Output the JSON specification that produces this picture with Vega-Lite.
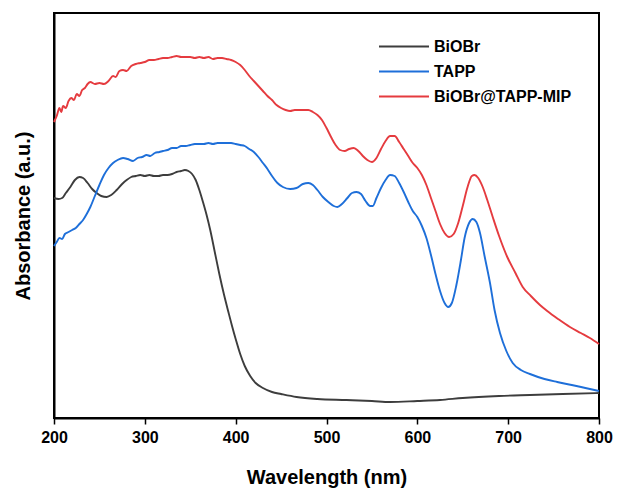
{
  "$schema": "https://vega.github.io/schema/vega-lite/v6.json",
  "autosize": "none",
  "width": 545,
  "height": 405,
  "padding": {"left": 54, "top": 13, "right": 18, "bottom": 73},
  "background": "white",
  "config": {
    "view": {"stroke": "black", "strokeWidth": 2},
    "font": "Liberation Sans"
  },
  "datasets": {
    "BiOBr": [[200,2.20],[205,2.19],[209,2.20],[213,2.25],[218,2.31],[223,2.38],[228,2.41],[232,2.40],[237,2.35],[242,2.29],[247,2.25],[252,2.22],[258,2.21],[263,2.23],[269,2.28],[275,2.34],[280,2.38],[285,2.41],[290,2.42],[295,2.43],[300,2.42],[305,2.43],[310,2.42],[315,2.42],[320,2.43],[325,2.43],[330,2.44],[335,2.46],[340,2.47],[344,2.48],[348,2.47],[352,2.44],[356,2.38],[360,2.28],[364,2.16],[368,2.03],[372,1.88],[377,1.66],[382,1.44],[387,1.24],[392,1.06],[396,0.92],[400,0.79],[405,0.64],[410,0.52],[416,0.42],[422,0.35],[430,0.30],[440,0.26],[450,0.24],[467,0.21],[490,0.19],[522,0.18],[550,0.17],[570,0.16],[600,0.17],[625,0.18],[650,0.20],[690,0.22],[724,0.23],[760,0.24],[800,0.25]],
    "TAPP": [[200,1.72],[203,1.76],[206,1.80],[209,1.79],[212,1.84],[216,1.86],[220,1.88],[224,1.90],[228,1.94],[232,1.98],[236,2.04],[240,2.11],[245,2.22],[250,2.33],[255,2.43],[260,2.50],[265,2.55],[270,2.58],[276,2.60],[281,2.59],[287,2.57],[292,2.60],[297,2.61],[302,2.63],[306,2.62],[311,2.65],[316,2.66],[320,2.67],[325,2.68],[330,2.70],[335,2.70],[340,2.72],[345,2.72],[350,2.73],[355,2.74],[360,2.74],[365,2.74],[370,2.75],[375,2.74],[380,2.75],[385,2.75],[390,2.75],[395,2.75],[400,2.74],[405,2.73],[410,2.72],[415,2.69],[420,2.66],[425,2.61],[430,2.55],[435,2.49],[440,2.42],[446,2.35],[452,2.31],[460,2.29],[467,2.30],[474,2.34],[480,2.35],[485,2.33],[490,2.28],[496,2.21],[502,2.16],[508,2.12],[512,2.11],[517,2.14],[523,2.20],[528,2.25],[533,2.26],[538,2.24],[543,2.17],[548,2.12],[551,2.12],[555,2.20],[560,2.30],[565,2.38],[570,2.43],[575,2.42],[580,2.35],[585,2.26],[590,2.16],[595,2.07],[600,2.01],[605,1.92],[610,1.80],[615,1.63],[620,1.44],[625,1.27],[630,1.15],[634,1.11],[638,1.15],[643,1.33],[648,1.58],[652,1.80],[657,1.95],[661,1.99],[665,1.96],[669,1.85],[674,1.62],[680,1.35],[685,1.08],[691,0.85],[698,0.67],[705,0.55],[714,0.48],[724,0.44],[740,0.39],[754,0.36],[770,0.33],[785,0.30],[800,0.27]],
    "MIP": [[200,2.96],[203,3.02],[206,3.10],[208,3.06],[210,3.12],[213,3.10],[216,3.17],[219,3.20],[222,3.18],[225,3.24],[228,3.22],[231,3.28],[234,3.30],[237,3.34],[240,3.36],[245,3.34],[250,3.35],[255,3.34],[260,3.37],[265,3.42],[268,3.41],[272,3.47],[276,3.48],[280,3.47],[285,3.52],[290,3.54],[295,3.55],[300,3.56],[305,3.58],[310,3.58],[315,3.59],[320,3.60],[325,3.60],[330,3.61],[335,3.62],[340,3.61],[345,3.61],[350,3.61],[355,3.60],[360,3.61],[365,3.60],[370,3.61],[375,3.59],[380,3.60],[385,3.60],[390,3.59],[395,3.58],[400,3.56],[405,3.53],[410,3.48],[415,3.42],[420,3.37],[425,3.32],[430,3.27],[435,3.22],[440,3.18],[445,3.13],[450,3.10],[455,3.08],[460,3.07],[465,3.08],[470,3.08],[475,3.08],[480,3.08],[485,3.06],[490,3.03],[495,2.98],[500,2.90],[505,2.81],[510,2.73],[515,2.68],[520,2.67],[525,2.69],[530,2.70],[535,2.67],[540,2.62],[545,2.58],[550,2.56],[555,2.60],[560,2.69],[565,2.77],[570,2.82],[575,2.82],[580,2.76],[585,2.69],[590,2.62],[595,2.55],[600,2.50],[605,2.43],[610,2.33],[615,2.20],[620,2.07],[625,1.94],[630,1.85],[635,1.81],[640,1.84],[645,1.95],[650,2.12],[655,2.30],[660,2.42],[663,2.43],[667,2.40],[672,2.31],[677,2.18],[683,2.01],[690,1.82],[699,1.61],[708,1.45],[716,1.31],[725,1.22],[735,1.13],[743,1.07],[755,0.99],[768,0.91],[780,0.85],[790,0.80],[800,0.74]]
  },
  "layer": [
    {"data": {"name": "BiOBr"}, "transform": [{"calculate": "'BiOBr'", "as": "series"}, {"calculate": "datum[0]", "as": "w"}, {"calculate": "datum[1]", "as": "a"}], "mark": {"type": "line", "strokeWidth": 1.9, "interpolate": "monotone"}, "encoding": {}},
    {"data": {"name": "TAPP"}, "transform": [{"calculate": "'TAPP'", "as": "series"}, {"calculate": "datum[0]", "as": "w"}, {"calculate": "datum[1]", "as": "a"}], "mark": {"type": "line", "strokeWidth": 1.9, "interpolate": "monotone"}, "encoding": {}},
    {"data": {"name": "MIP"}, "transform": [{"calculate": "'BiOBr@TAPP-MIP'", "as": "series"}, {"calculate": "datum[0]", "as": "w"}, {"calculate": "datum[1]", "as": "a"}], "mark": {"type": "line", "strokeWidth": 1.9, "interpolate": "monotone"}, "encoding": {}}
  ],
  "encoding": {
    "x": {"field": "w", "type": "quantitative", "title": "Wavelength (nm)",
      "scale": {"domain": [200, 800], "nice": false},
      "axis": {"values": [200,300,400,500,600,700,800], "tickSize": 6, "tickWidth": 1.5, "tickColor": "black", "domainColor": "black", "domainWidth": 2, "grid": false,
        "labelFont": "Liberation Sans", "labelFontSize": 16, "labelFontWeight": "bold", "labelColor": "black", "labelPadding": 5, "labelFlush": false,
        "titleFont": "Liberation Sans", "titleFontSize": 20, "titleFontWeight": "bold", "titleColor": "black", "titlePadding": 22}},
    "y": {"field": "a", "type": "quantitative", "title": "Absorbance (a.u.)",
      "scale": {"domain": [0, 4.05], "nice": false},
      "axis": {"labels": false, "ticks": false, "grid": false, "domainColor": "black", "domainWidth": 2,
        "titleFont": "Liberation Sans", "titleFontSize": 20, "titleFontWeight": "bold", "titleColor": "black", "titlePadding": 21}},
    "color": {"field": "series", "type": "nominal",
      "scale": {"domain": ["BiOBr", "TAPP", "BiOBr@TAPP-MIP"], "range": ["#3d3d3d", "#1e6fd9", "#e53b3f"]},
      "legend": {"title": null, "orient": "none", "legendX": 324, "legendY": 21, "symbolType": "stroke", "symbolSize": 2500, "symbolStrokeWidth": 2, "clipHeight": 25, "rowPadding": 0,
        "labelFont": "Liberation Sans", "labelFontSize": 16, "labelFontWeight": "bold", "labelColor": "black", "labelOffset": 4}}
  }
}
